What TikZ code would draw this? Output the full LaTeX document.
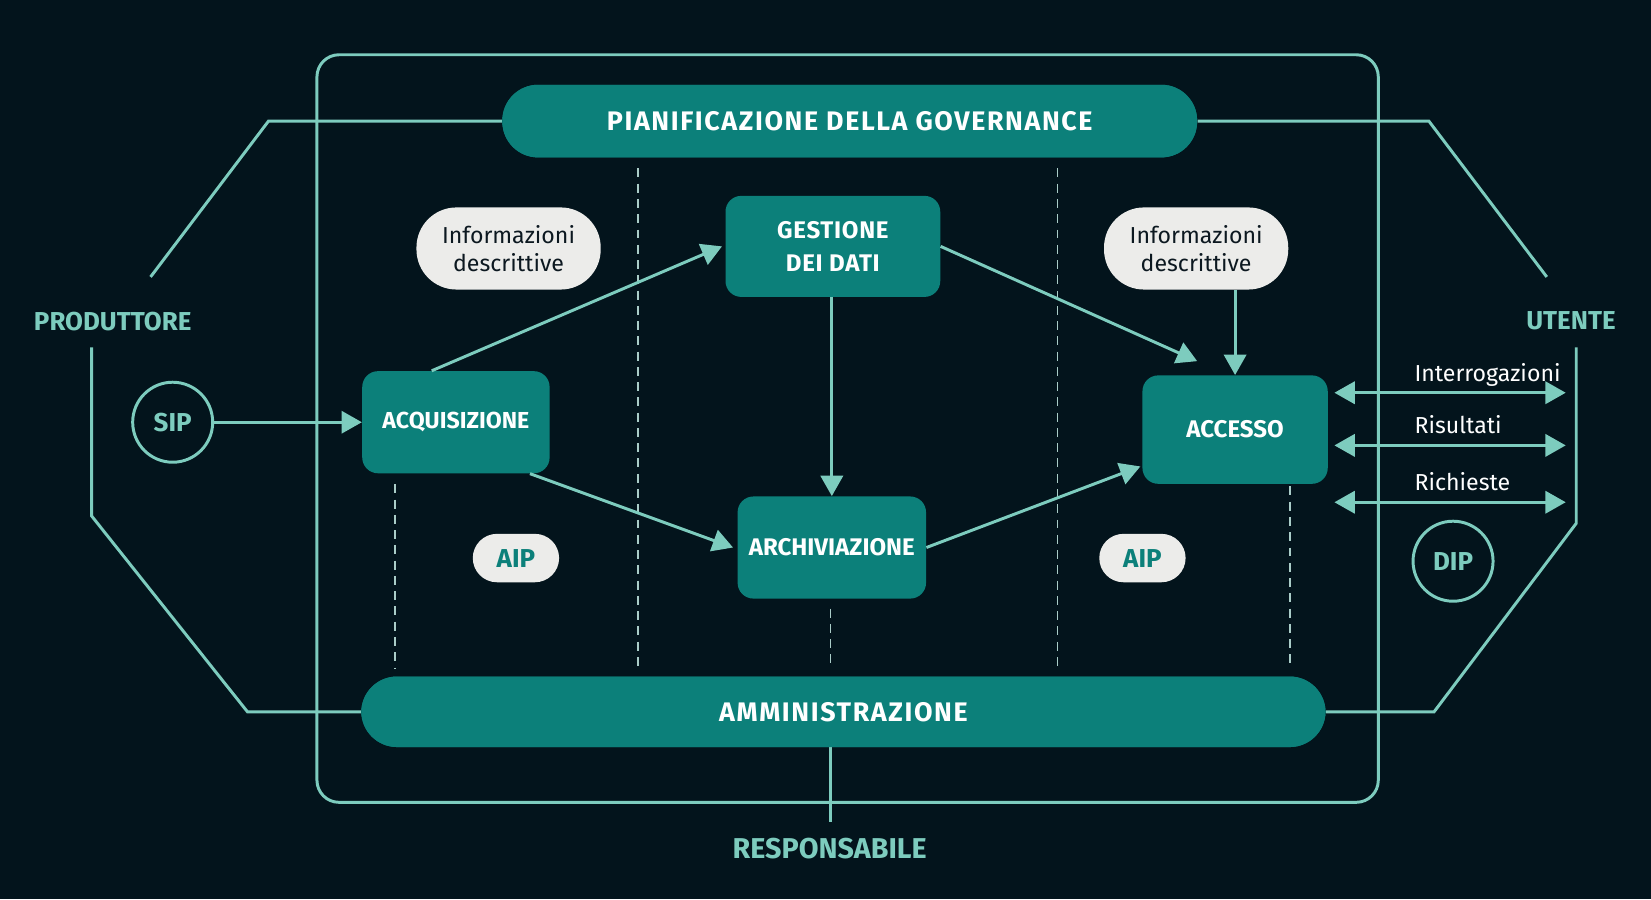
\documentclass[tikz,border=0pt]{standalone}
\usepackage{fontspec}
\setmainfont{Fira Sans}
\usetikzlibrary{positioning}
\usetikzlibrary{arrows.meta}

\definecolor{bgdark}{RGB}{3,20,28}
\definecolor{mint}{RGB}{125,204,190}
\definecolor{tealbox}{RGB}{12,128,122}
\definecolor{pillwhite}{RGB}{236,236,234}
\definecolor{inkdark}{RGB}{12,24,32}
\definecolor{guidegrey}{RGB}{170,205,200}

\tikzset{
  proc/.style={fill=tealbox, rounded corners=0.3cm, text=white, align=center,
    font=\fontsize{12.5}{15}\selectfont\bfseries, inner sep=0pt},
  band/.style={fill=tealbox, rounded corners=0.68cm, text=white, inner sep=0pt,
    font=\fontsize{14.5}{16}\selectfont\bfseries\addfontfeatures{LetterSpace=6}},
  infopill/.style={fill=pillwhite, rounded corners=0.76cm, text=inkdark, align=center,
    minimum width=3.5cm, minimum height=1.56cm, inner sep=0pt,
    font=\fontsize{12.5}{15.5}\selectfont},
  aippill/.style={fill=pillwhite, rounded corners=0.46cm, text=tealbox, inner sep=0pt,
    minimum width=1.64cm, minimum height=0.92cm, font=\fontsize{14}{16}\selectfont\bfseries},
  pkg/.style={circle, draw=mint, line width=1.6pt, text=mint, minimum size=1.52cm,
    inner sep=0pt, font=\fontsize{14}{16}\selectfont\bfseries},
  actor/.style={text=mint, inner sep=0pt, font=\fontsize{14}{16}\selectfont\bfseries},
  wire/.style={draw=mint, line width=1.6pt},
  flow/.style={draw=mint, line width=1.6pt, -{Triangle[length=11pt,width=12pt]}},
  dflow/.style={draw=mint, line width=1.6pt, {Triangle[length=11pt,width=12pt]}-{Triangle[length=11pt,width=12pt]}},
  flowlbl/.style={text=white, inner sep=0pt, font=\fontsize{12.5}{15}\selectfont},
  guide/.style={draw=guidegrey, line width=0.7pt, dash pattern=on 0.17cm off 0.12cm},
}

\begin{document}
\begin{tikzpicture}[x=0.02cm, y=-0.02cm]
\fill[bgdark] (0,0) rectangle (1568,854);
\useasboundingbox (0,0) rectangle (1568,854);

% outer frame and guides
\draw[wire, rounded corners=0.42cm] (301,52) rectangle (1309,762);
\foreach \gx/\gya/\gyb in {606/160/635, 1004/160/635, 375/460/635, 789/578/635, 1225/462/630}
  \draw[guide] (\gx,\gya) -- (\gx,\gyb);

% actors
\node[actor] (prod) at (107,305) {PRODUTTORE};
\node[actor] (user) at (1492,305) {UTENTE};
\node[actor, font=\fontsize{15.5}{18}\selectfont\bfseries] (resp) at (788,806) {RESPONSABILE};

% bands
\node[band, minimum width=13.2cm, minimum height=1.38cm] (gov) at (807,115) {PIANIFICAZIONE DELLA GOVERNANCE};
\node[band, minimum width=18.32cm, minimum height=1.34cm] (adm) at (801,676) {AMMINISTRAZIONE};

\draw[wire] (gov.west) -- (255,115) -- (143,263);
\draw[wire] (gov.east) -- (1357,115) -- (1469,263);
\draw[wire] (adm.west) -- (235,676) -- (87,490) -- (87,330);
\draw[wire] (adm.east) -- (1362,676) -- (1497,497) -- (1497,330);
\coordinate (respin) at (789,781);
\draw[wire] (adm.south -| respin) -- (respin);
\node[band, minimum width=13.2cm, minimum height=1.38cm] at (gov) {PIANIFICAZIONE DELLA GOVERNANCE};
\node[band, minimum width=18.32cm, minimum height=1.34cm] at (adm) {AMMINISTRAZIONE};

% functions
\node[proc, minimum width=3.56cm, minimum height=1.94cm] (acq) at (433,401) {ACQUISIZIONE};
\node[proc, minimum width=4.08cm, minimum height=1.92cm, font=\fontsize{13}{18}\selectfont\bfseries\addfontfeatures{LetterSpace=3}] (gest) at (791,234) {GESTIONE\\DEI DATI};
\node[proc, minimum width=3.58cm, minimum height=1.94cm, font=\fontsize{13}{16}\selectfont\bfseries] (arch) at (790,520) {ARCHIVIAZIONE};
\node[proc, minimum width=3.52cm, minimum height=2.06cm, font=\fontsize{13}{16}\selectfont\bfseries] (acc) at (1173,408) {ACCESSO};

% packages
\node[pkg] (sip) at (164,401) {SIP};
\node[pkg] (dip) at (1380,533) {DIP};
\node[infopill] (infol) at (483,236) {Informazioni\\descrittive};
\node[infopill] (infor) at (1136,236) {Informazioni\\descrittive};
\node[aippill] (aipl) at (490,530) {AIP};
\node[aippill] (aipr) at (1085,530) {AIP};

% flows
\coordinate (accin) at (1137,343);
\coordinate (accarch) at (1083,443);
\draw[flow] (sip) -- (acq);
\draw[flow] ([xshift=-0.46cm]acq.north) -- ([xshift=-0.06cm]gest.west);
\draw[flow] ([xshift=-0.38cm]acq.south east) -- ([xshift=-0.08cm]arch.west);
\draw[flow] (gest.south -| arch.north) -- (arch.north);
\draw[flow] (gest.east) -- (accin);
\draw[flow] (acc.north |- infor.south) -- (acc.north);
\draw[flow] (arch.east) -- (accarch);

\coordinate (q1) at (1487,373);
\coordinate (q2) at (1487,423);
\coordinate (q3) at (1487,477);
\draw[dflow] ([xshift=0.12cm]acc.east |- q1) -- node[flowlbl, anchor=base west, yshift=0.22cm, pos=0.34] {Interrogazioni} (q1);
\draw[dflow] ([xshift=0.12cm]acc.east |- q2) -- node[flowlbl, anchor=base west, yshift=0.22cm, pos=0.34] {Risultati} (q2);
\draw[dflow] ([xshift=0.12cm]acc.east |- q3) -- node[flowlbl, anchor=base west, yshift=0.22cm, pos=0.34] {Richieste} (q3);
\end{tikzpicture}
\end{document}
